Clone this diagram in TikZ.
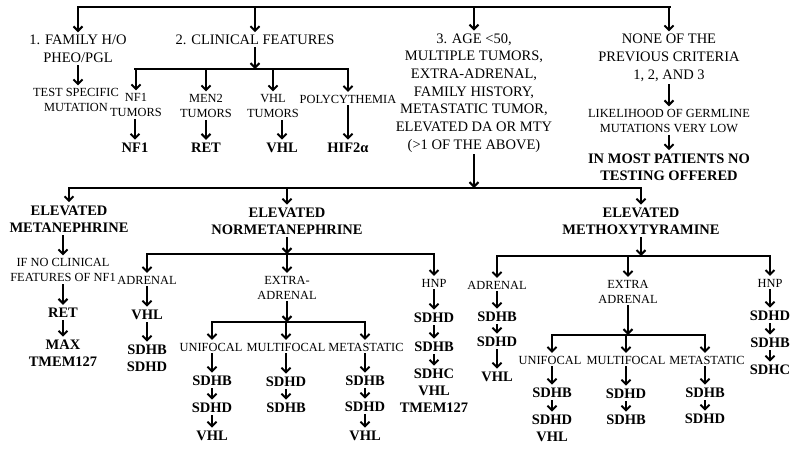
\documentclass[tikz,border=0pt]{standalone}
\usepackage{fontspec}
\setmainfont{Liberation Serif}
\usetikzlibrary{arrows.meta}

\begin{document}
\begin{tikzpicture}
[x=1pt,y=-1pt,line width=2pt,line cap=rect,>={Straight Barb[length=4.5pt,width=9pt]},
big/.style={font=\fontsize{14.5}{17.7}\selectfont,align=center,inner sep=2pt},
small/.style={font=\fontsize{12.4}{15}\selectfont,align=center,inner sep=2pt},
gene/.style={font=\bfseries\fontsize{14.5}{17}\selectfont,align=center,inner sep=2.5pt}]
\useasboundingbox (0,0) rectangle (800,451);
\coordinate (topw) at (78,7);
\coordinate (tope) at (670,7);
\node[big] (fam) at (78,49) {1. FAMILY H/O\\PHEO/PGL};
\node[big] (clin) at (255,40) {2. CLINICAL FEATURES};
\node[big] (age) at (474,93) {3. AGE <50,\\MULTIPLE TUMORS,\\EXTRA-ADRENAL,\\FAMILY HISTORY,\\METASTATIC TUMOR,\\ELEVATED DA OR MTY\\(>1 OF THE ABOVE)};
\node[big] (none) at (669,58) {NONE OF THE\\PREVIOUS CRITERIA\\1, 2, AND 3};
\draw (topw) -- (tope);
\foreach \n in {fam,clin,age,none}
  \draw[->] (\n |- topw) to (\n);

\node[small] (test) at (76,100) {TEST SPECIFIC\\MUTATION};
\draw[->] (fam) to (fam |- test.north);

\coordinate (clinw) at (135,69);
\coordinate (cline) at (348,69);
\node[small] (nftum) at (136,105) {NF1\\TUMORS};
\node[small] (mentum) at (206,106) {MEN2\\TUMORS};
\node[small] (vhltum) at (273,106) {VHL\\TUMORS};
\node[small] (poly) at (348,99) {POLYCYTHEMIA};
\node[gene] (nf1) at (135,148) {NF1};
\node[gene] (ret) at (206,148) {RET};
\node[gene] (vhl) at (282,148) {VHL};
\node[gene] (hif) at (348,148) {HIF2α};
\draw[->] (clin) to (clin |- clinw);
\draw (clinw) -- (cline);
\foreach \n in {nftum,mentum,vhltum,poly}
  \draw[->] (\n |- clinw) to (\n);
\draw[->] (nf1 |- nftum.south) to (nf1);
\draw[->] (mentum) to (ret);
\draw[->] (vhl |- vhltum.south) to (vhl);
\draw[->] (poly) to (hif);

\node[small] (likely) at (669,121) {LIKELIHOOD OF GERMLINE\\MUTATIONS VERY LOW};
\node[gene] (notest) at (669,167) {IN MOST PATIENTS NO\\TESTING OFFERED};
\draw[->] (none) to (likely);
\draw[->] (likely) to (notest);

\coordinate (biow) at (69,188);
\coordinate (bioe) at (641,188);
\node[gene] (met) at (69,219) {ELEVATED\\METANEPHRINE};
\node[gene] (nmet) at (287,221.5) {ELEVATED\\NORMETANEPHRINE};
\node[gene] (mty) at (641,221.5) {ELEVATED\\METHOXYTYRAMINE};
\draw[->] (age) to (age |- biow);
\draw (biow) -- (bioe);
\foreach \n in {met,nmet,mty}
  \draw[->] (\n |- biow) to (\n);

\node[small] (ifno) at (63,270) {IF NO CLINICAL\\FEATURES OF NF1};
\node[gene] (ret2) at (63,313) {RET};
\node[gene] (max) at (63,353.5) {MAX\\TMEM127};
\draw[->] (ifno |- met.south) to (ifno);
\draw[->] (ifno) to (ret2);
\draw[->] (ret2) to (max);

\coordinate (nmetw) at (147,254);
\coordinate (nmete) at (434,254);
\node[small] (nadr) at (147,280) {ADRENAL};
\node[small] (nextra) at (287,287.5) {EXTRA-\\ADRENAL};
\node[small] (nhnp) at (434,283) {HNP};
\draw[->] (nmet) to (nmet |- nmetw);
\draw (nmetw) -- (nmete);
\foreach \n in {nadr,nextra,nhnp}
  \draw[->] (\n |- nmetw) to (\n);

\node[gene] (nvhl) at (147,315) {VHL};
\node[gene] (nsdh) at (147,358.5) {SDHB\\SDHD};
\draw[->] (nadr) to (nvhl);
\draw[->] (nvhl) to (nsdh);

\coordinate (nsubw) at (212,322);
\coordinate (nsube) at (365,322);
\node[small] (nuni) at (211,347) {UNIFOCAL};
\node[small] (nmul) at (286,347) {MULTIFOCAL};
\node[small] (nmeta) at (366,347) {METASTATIC};
\node[gene] (nuone) at (212,381) {SDHB};
\node[gene] (nutwo) at (212,408) {SDHD};
\node[gene] (nuthree) at (212,436) {VHL};
\node[gene] (nmone) at (286,382) {SDHD};
\node[gene] (nmtwo) at (286,408) {SDHB};
\node[gene] (ntone) at (365,381) {SDHB};
\node[gene] (nttwo) at (365,407) {SDHD};
\node[gene] (ntthree) at (365,436) {VHL};
\draw[->] (nextra) to (nextra |- nsubw);
\draw (nsubw) -- (nsube);
\foreach \n in {nuone,nmone,ntone}
  \draw[->] (\n |- nsubw) to (\n |- nuni.north);
\draw[->] (nuone |- nuni.south) to (nuone);
\draw[->] (nuone) to (nutwo);
\draw[->] (nutwo) to (nuthree);
\draw[->] (nmone |- nmul.south) to (nmone);
\draw[->] (nmone) to (nmtwo);
\draw[->] (ntone |- nmeta.south) to (ntone);
\draw[->] (ntone) to (nttwo);
\draw[->] (nttwo) to (ntthree);

\node[gene] (nhone) at (434,318) {SDHD};
\node[gene] (nhtwo) at (434,347) {SDHB};
\node[gene] (nhthree) at (434,391) {SDHC\\VHL\\TMEM127};
\draw[->] (nhnp) to (nhone);
\draw[->] (nhone) to (nhtwo);
\draw[->] (nhtwo) to (nhthree);

\coordinate (mtyw) at (497,256);
\coordinate (mtye) at (770,256);
\node[small] (madr) at (497,285) {ADRENAL};
\node[small] (mextra) at (628,291.5) {EXTRA\\ADRENAL};
\node[small] (mhnp) at (770,283) {HNP};
\draw[->] (mty) to (mty |- mtyw);
\draw (mtyw) -- (mtye);
\foreach \n in {madr,mextra,mhnp}
  \draw[->] (\n |- mtyw) to (\n);

\node[gene] (maone) at (497,317) {SDHB};
\node[gene] (matwo) at (497,342) {SDHD};
\node[gene] (mathree) at (497,377) {VHL};
\draw[->] (madr) to (maone);
\draw[->] (maone) to (matwo);
\draw[->] (matwo) to (mathree);

\coordinate (msubw) at (552,335);
\coordinate (msube) at (705,335);
\node[small] (muni) at (550,360) {UNIFOCAL};
\node[small] (mmul) at (626,360) {MULTIFOCAL};
\node[small] (mmeta) at (707,360) {METASTATIC};
\node[gene] (muone) at (552,393) {SDHB};
\node[gene] (mutwo) at (552,428.5) {SDHD\\VHL};
\node[gene] (mmone) at (626,394) {SDHD};
\node[gene] (mmtwo) at (626,420) {SDHB};
\node[gene] (mtone) at (705,393) {SDHB};
\node[gene] (mttwo) at (705,419) {SDHD};
\draw[->] (mextra) to (mextra |- msubw);
\draw (msubw) -- (msube);
\foreach \n in {muone,mmone,mtone}
  \draw[->] (\n |- msubw) to (\n |- muni.north);
\draw[->] (muone |- muni.south) to (muone);
\draw[->] (muone) to (mutwo);
\draw[->] (mmone |- mmul.south) to (mmone);
\draw[->] (mmone) to (mmtwo);
\draw[->] (mtone |- mmeta.south) to (mtone);
\draw[->] (mtone) to (mttwo);

\node[gene] (mhone) at (770,316) {SDHD};
\node[gene] (mhtwo) at (770,343) {SDHB};
\node[gene] (mhthree) at (770,370) {SDHC};
\draw[->] (mhnp) to (mhone);
\draw[->] (mhone) to (mhtwo);
\draw[->] (mhtwo) to (mhthree);
\end{tikzpicture}
\end{document}
